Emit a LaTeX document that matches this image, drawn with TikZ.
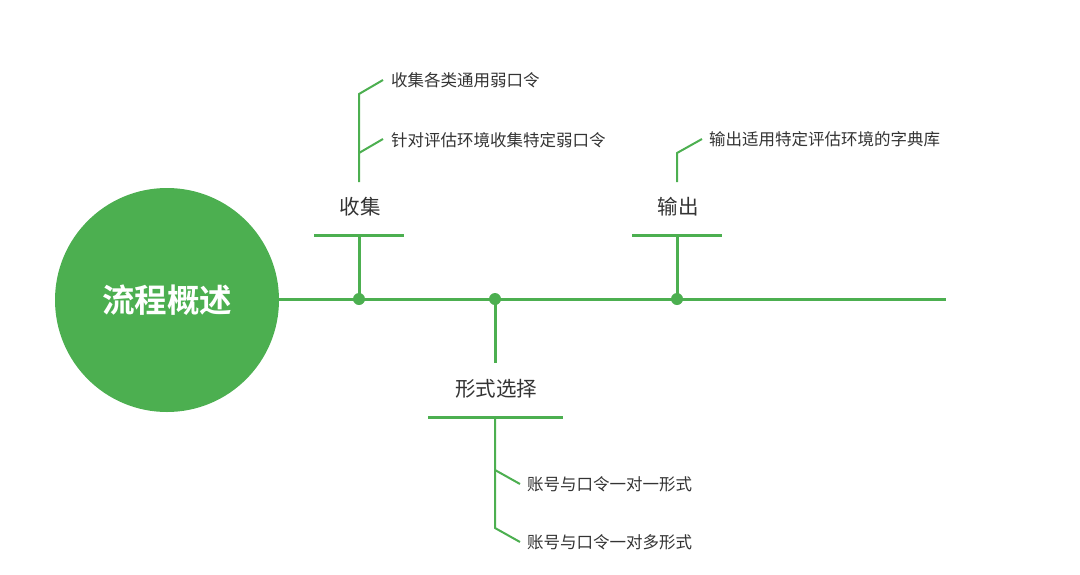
\documentclass[tikz,border=0pt]{standalone}
\usepackage{fontspec}
\setmainfont{Noto Sans CJK SC}[BoldFont={Noto Sans CJK SC Bold}]
\definecolor{gr}{RGB}{76,175,80}
\definecolor{tx}{RGB}{51,51,51}
\begin{document}
\begin{tikzpicture}[x=1pt,y=-1pt,
  mainln/.style={draw=gr,line width=3pt},
  subln/.style={draw=gr,line width=2pt},
  dotn/.style={circle,fill=gr,inner sep=0pt,minimum size=12pt},
  lbl/.style={font=\fontsize{20.5}{22}\selectfont,text=tx,inner sep=0pt},
  leaf/.style={font=\fontsize{16.5}{18}\selectfont,text=tx,inner sep=0pt,anchor=west}]
\useasboundingbox (0,0) rectangle (1080,574);
\node[circle,fill=gr,minimum size=224pt,inner sep=0pt,font=\fontsize{32.5}{34}\selectfont\bfseries,text=white] (root) at (167,300) {流程概述};
\coordinate (mend) at (946,299);
\draw[mainln] (root.east |- 0,299) -- (mend);
\node[dotn] (d1) at (359,299) {};
\node[dotn] (d2) at (495,299) {};
\node[dotn] (d3) at (677,299) {};
% 收集
\coordinate (b1l) at (314,235); \coordinate (b1r) at (404,235); \coordinate (b1m) at (359,235);
\draw[mainln] (d1.center) -- (b1m);
\draw[mainln] (b1l) -- (b1r);
\node[lbl] (l1) at (360,207) {收集};
\coordinate (s1a) at (359,182); \coordinate (s1b) at (359,153); \coordinate (s1c) at (359,94);
\node[leaf] (t11) at (391,80) {收集各类通用弱口令};
\node[leaf] (t12) at (391,140) {针对评估环境收集特定弱口令};
\draw[subln] (s1a) -- (s1c) -- (383,80);
\draw[subln] (s1b) -- (383,139);
% 输出
\coordinate (b3l) at (632,235); \coordinate (b3r) at (722,235); \coordinate (b3m) at (677,235);
\draw[mainln] (d3.center) -- (b3m);
\draw[mainln] (b3l) -- (b3r);
\node[lbl] (l3) at (678,207) {输出};
\coordinate (s3a) at (677,182); \coordinate (s3b) at (677,153);
\node[leaf] (t31) at (709,139) {输出适用特定评估环境的字典库};
\draw[subln] (s3a) -- (s3b) -- (702,139);
% 形式选择
\coordinate (s2top) at (495,363);
\draw[mainln] (d2.center) -- (s2top);
\node[lbl] (l2) at (496,389) {形式选择};
\coordinate (b2l) at (428,417); \coordinate (b2r) at (563,417); \coordinate (b2m) at (495,417);
\draw[mainln] (b2l) -- (b2r);
\coordinate (s2a) at (495,470); \coordinate (s2b) at (495,528);
\node[leaf] (t21) at (527,484) {账号与口令一对一形式};
\node[leaf] (t22) at (527,542) {账号与口令一对多形式};
\draw[subln] (b2m) -- (s2b) -- (520,542);
\draw[subln] (s2a) -- (520,484);
\end{tikzpicture}
\end{document}
